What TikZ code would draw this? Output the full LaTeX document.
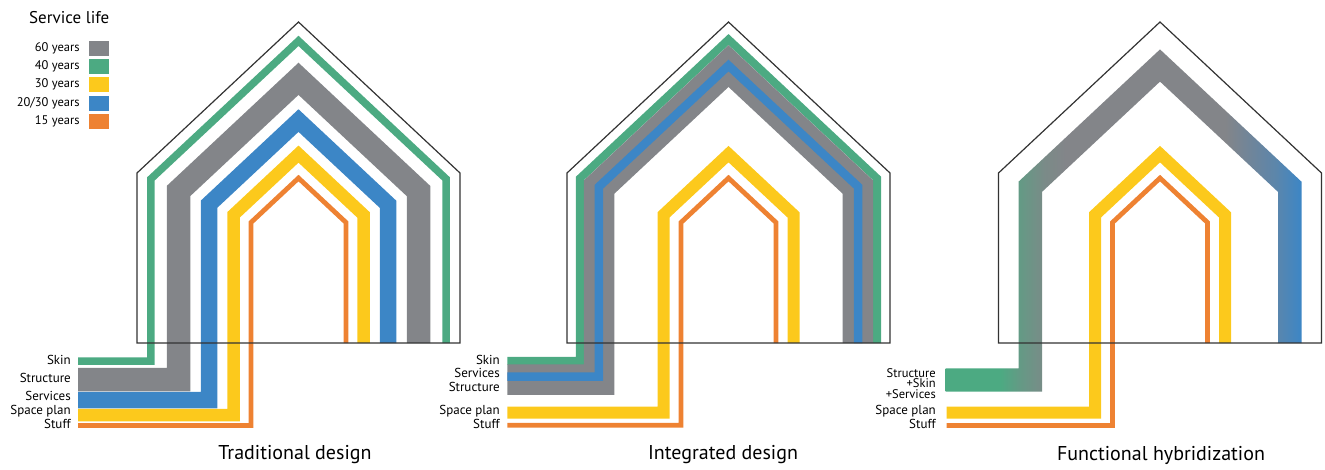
\documentclass[tikz,border=0pt]{standalone}
\usepackage{fontspec}
\setmainfont{PT Sans}
\usepackage{tikz}
\usetikzlibrary{positioning}
\definecolor{skin}{RGB}{76,170,130}
\definecolor{struct}{RGB}{131,133,137}
\definecolor{serv}{RGB}{60,134,198}
\definecolor{space}{RGB}{252,201,28}
\definecolor{stuff}{RGB}{238,130,50}
\colorlet{mixgreen}{skin!55!struct}
\colorlet{mixgray}{skin!15!struct}
\colorlet{mixblue}{serv!55!struct}
\pgfdeclarehorizontalshading{hybrid}{100bp}{%
  color(0bp)=(skin); color(32.7bp)=(skin); color(35.5bp)=(mixgreen);
  color(39bp)=(mixgray); color(41.9bp)=(struct); color(64.3bp)=(struct);
  color(71.3bp)=(mixblue); color(75bp)=(serv); color(100bp)=(serv)}
\tikzset{
band/.style={line width=#1pt, line join=miter, line cap=butt},
outline/.style={draw=black!80, line width=1.2pt, line join=miter},
lbl/.style={%
    anchor=east, inner sep=0pt,
    text height=9pt, text depth=3pt,
    font=\fontsize{13}{13}\selectfont
},
stack/.style={lbl, anchor=base east, text height=8pt, text depth=0pt,
    font=\fontsize{12.5}{12.5}\selectfont},
key/.style={lbl, font=\fontsize{12.5}{12.5}\selectfont},
head/.style={inner sep=0pt, font=\fontsize{17}{17}\selectfont},
title/.style={inner sep=0pt, font=\fontsize{20}{20}\selectfont},
swatch/.style={minimum width=20pt, minimum height=15pt, inner sep=0pt},
}

\begin{document}
\begin{tikzpicture}[x=1pt,y=-1pt]
\useasboundingbox (0,0) rectangle (1325,469);

% legend
\node[head, anchor=west] (life) at (29,18) {Service life};
\foreach \i/\t/\c in {0/60 years/struct, 1/40 years/skin, 2/30 years/space, 3/{20/30 years}/serv, 4/15 years/stuff} {
  \node[swatch, fill=\c] (sw\i) at (99,{48.3+18.3*\i}) {};
  \node[key, left=9pt of sw\i] (yr\i) {\t};
}

% traditional design
\begin{scope}[xshift=137pt]
  \foreach \d/\w/\ly/\c in {13.8/7.5/361/skin, 41.5/23.5/379.7/struct, 72/16.5/400/serv, 96.5/12.5/415/space, 114/4.8/425.5/stuff}
    \draw[band=\w, \c] (-59,\ly) -| (\d,{173+0.434*\d}) -- (161.5,{22+1.369*\d})
      -- ({323-\d},{173+0.434*\d}) -- ({323-\d},343);
  \draw[outline] (0,343) -- (0,173) -- (161.5,22) -- (323,173) -- (323,343) -- cycle;
  \node[lbl] (skinA) at (-66,361.7) {Skin};
  \node[lbl] (structA) at (-66,379) {Structure};
  \node[lbl] (servA) at (-66,397) {Services};
  \node[lbl] (spaceA) at (-66,411) {Space plan};
  \node[lbl] (stuffA) at (-66,425.7) {Stuff};
  \node[title] (tradA) at (158,455) {Traditional design};
\end{scope}

% integrated design
\begin{scope}[xshift=567pt]
  \foreach \d/\w/\ly/\c in {12.8/8/360.8/skin, 32.2/30.5/379.7/struct, 31.8/8.5/376.7/serv, 96.5/12/412.5/space, 114/4.8/425.2/stuff}
    \draw[band=\w, \c] (-59.7,\ly) -| (\d,{173+0.434*\d}) -- (161.5,{22+1.369*\d})
      -- ({323-\d},{173+0.434*\d}) -- ({323-\d},343);
  \draw[outline] (0,343) -- (0,173) -- (161.5,22) -- (323,173) -- (323,343) -- cycle;
  \node[lbl] (skinB) at (-67,361.7) {Skin};
  \node[lbl] (servB) at (-67,374.3) {Services};
  \node[lbl] (structB) at (-67,388.3) {Structure};
  \node[lbl] (spaceB) at (-67,411) {Space plan};
  \node[lbl] (stuffB) at (-67,425.7) {Stuff};
  \node[title] (intB) at (156,455) {Integrated design};
\end{scope}

% functional hybridization
\begin{scope}[xshift=998.5pt]
  \shade[shading=hybrid] (-53,368.3) -- (20,368.3) -- (20,181.7) -- (161.5,49.4) -- (303,181.7)
    -- (303,343) -- (279.5,343) -- (279.5,191.9) -- (161.5,81.6) -- (43.5,191.9)
    -- (43.5,391.7) -- (-53,391.7) -- cycle;
  \foreach \d/\w/\ly/\c in {96.5/12/412.5/space, 114/4.8/425.5/stuff}
    \draw[band=\w, \c] (-52,\ly) -| (\d,{173+0.434*\d}) -- (161.5,{22+1.369*\d})
      -- ({323-\d},{173+0.434*\d}) -- ({323-\d},343);
  \draw[outline] (0,343) -- (0,173) -- (161.5,22) -- (323,173) -- (323,343) -- cycle;
  \node[stack] (structC) at (-62.5,377.3) {Structure};
  \node[stack] (skinC) at (-62.5,387.6) {+Skin};
  \node[stack] (servC) at (-62.5,398) {+Services};
  \node[lbl] (spaceC) at (-62.5,411) {Space plan};
  \node[lbl] (stuffC) at (-62.5,425.7) {Stuff};
  \node[title] (hybC) at (162.5,455) {Functional hybridization};
\end{scope}
\end{tikzpicture}
\end{document}
